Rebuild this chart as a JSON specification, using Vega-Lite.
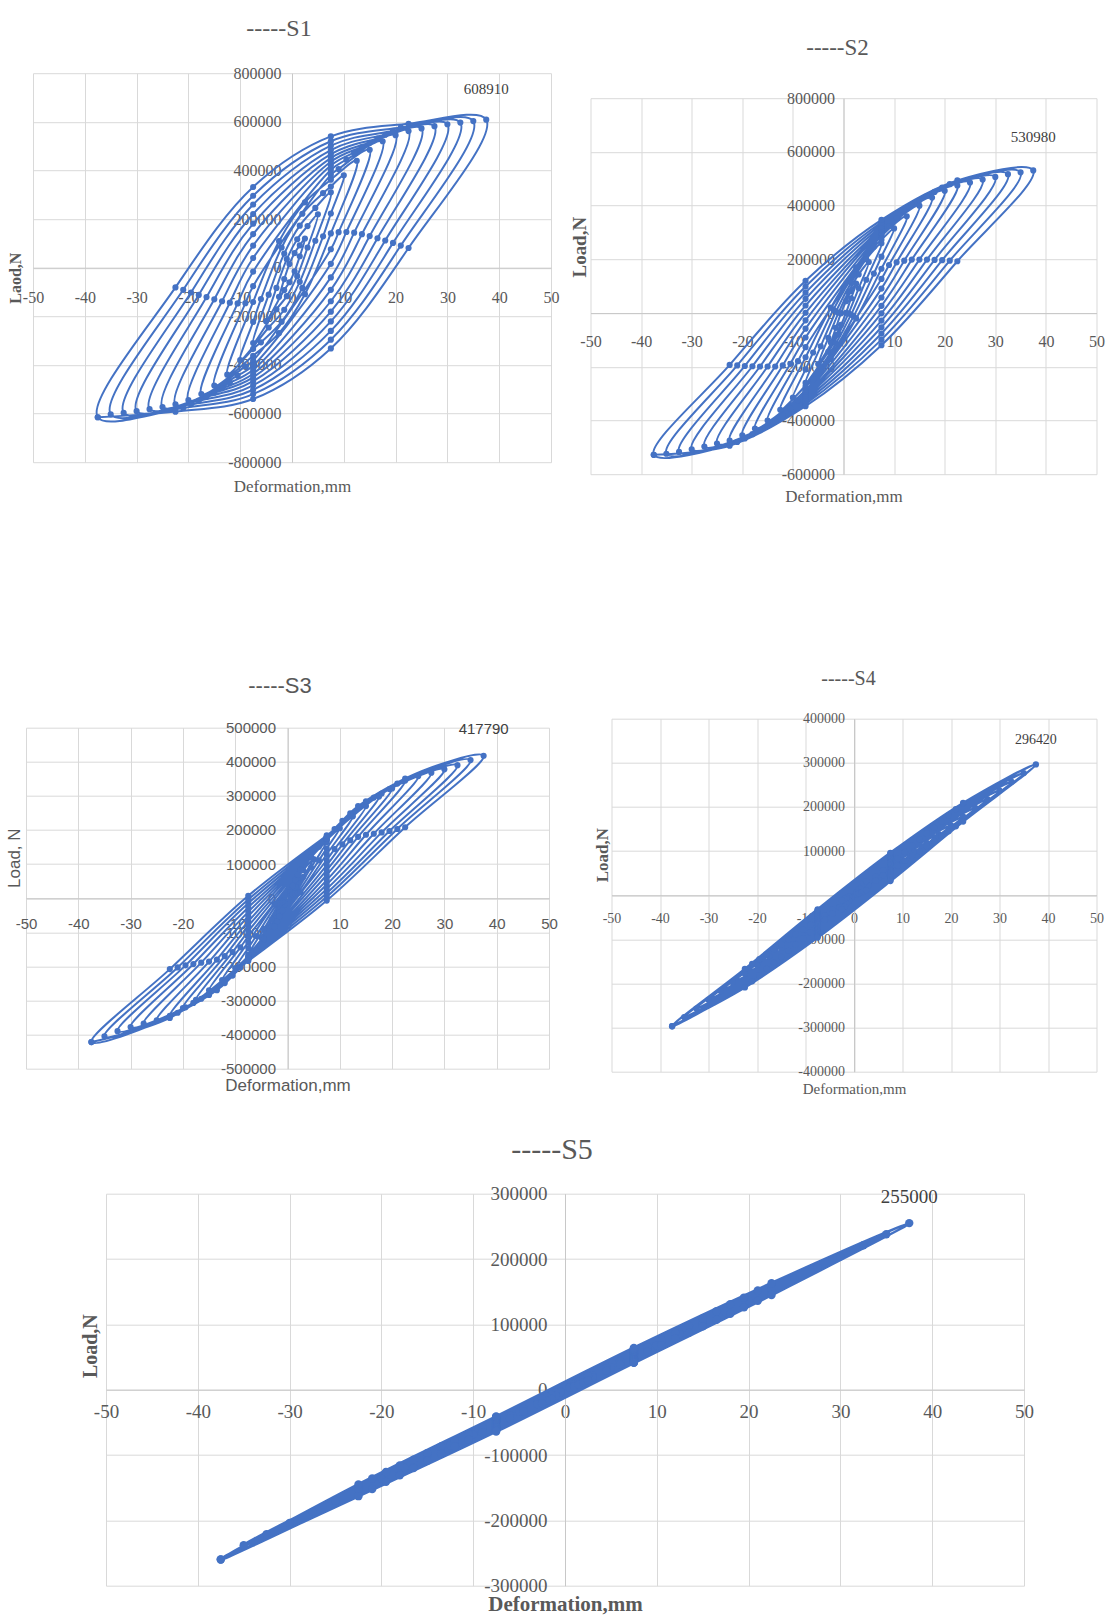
{
"$schema": "https://vega.github.io/schema/vega-lite/v6.json",
"background": "white",
"padding": {"left": 4, "top": 15.2, "right": 5, "bottom": 5},
"config": {"view": {"stroke": null}},
"datasets": {
"s1": [
{"x":-2.5,"y":-120000},{"x":-1.5,"y":-47000},{"x":-0.5,"y":15000},{"x":0.5,"y":60000},{"x":1.5,"y":92000},{"x":2.5,"y":120000},{"x":1.5,"y":47000},{"x":0.5,"y":-15000},{"x":-0.5,"y":-60000},{"x":-1.5,"y":-92000},
{"x":-5,"y":-220000},{"x":-3,"y":-83000},{"x":-1,"y":35000},{"x":1,"y":117000},{"x":3,"y":171000},{"x":5,"y":220000},{"x":3,"y":83000},{"x":1,"y":-35000},{"x":-1,"y":-117000},{"x":-3,"y":-171000},
{"x":-7.5,"y":-310000},{"x":-4.5,"y":-111000},{"x":-1.5,"y":58000},{"x":1.5,"y":173000},{"x":4.5,"y":246000},{"x":7.5,"y":310000},{"x":4.5,"y":111000},{"x":1.5,"y":-58000},{"x":-1.5,"y":-173000},{"x":-4.5,"y":-246000},
{"x":-10,"y":-380000},{"x":-7.5,"y":-223000},{"x":-6,"y":-129000},{"x":-2,"y":83000},{"x":2,"y":222000},{"x":6,"y":307000},{"x":7.5,"y":334000},{"x":10,"y":380000},{"x":7.5,"y":223000},{"x":6,"y":129000},{"x":2,"y":-83000},{"x":-2,"y":-222000},{"x":-6,"y":-307000},{"x":-7.5,"y":-334000},
{"x":-12.5,"y":-440000},{"x":-7.5,"y":-141000},{"x":-2.5,"y":109000},{"x":2.5,"y":269000},{"x":7.5,"y":362000},{"x":12.5,"y":440000},{"x":7.5,"y":141000},{"x":2.5,"y":-109000},{"x":-2.5,"y":-269000},{"x":-7.5,"y":-362000},
{"x":-15,"y":-485000},{"x":-9,"y":-146000},{"x":-7.5,"y":-76000},{"x":7.5,"y":382000},{"x":9,"y":406000},{"x":15,"y":485000},{"x":9,"y":146000},{"x":7.5,"y":76000},{"x":-7.5,"y":-382000},{"x":-9,"y":-406000},
{"x":-17.5,"y":-520000},{"x":-10.5,"y":-147000},{"x":-7.5,"y":-16000},{"x":7.5,"y":402000},{"x":10.5,"y":444000},{"x":17.5,"y":520000},{"x":10.5,"y":147000},{"x":7.5,"y":16000},{"x":-7.5,"y":-402000},{"x":-10.5,"y":-444000},
{"x":-20,"y":-545000},{"x":-12,"y":-144000},{"x":-7.5,"y":40000},{"x":7.5,"y":420000},{"x":12,"y":473000},{"x":20,"y":545000},{"x":12,"y":144000},{"x":7.5,"y":-40000},{"x":-7.5,"y":-420000},{"x":-12,"y":-473000},
{"x":-22.5,"y":-562000},{"x":-13.5,"y":-138000},{"x":-7.5,"y":91000},{"x":7.5,"y":436000},{"x":13.5,"y":496000},{"x":22.5,"y":562000},{"x":13.5,"y":138000},{"x":7.5,"y":-91000},{"x":-7.5,"y":-436000},{"x":-13.5,"y":-496000},
{"x":-25,"y":-573000},{"x":-15,"y":-130000},{"x":-7.5,"y":138000},{"x":7.5,"y":451000},{"x":15,"y":514000},{"x":25,"y":573000},{"x":15,"y":130000},{"x":7.5,"y":-138000},{"x":-7.5,"y":-451000},{"x":-15,"y":-514000},
{"x":-27.5,"y":-582000},{"x":-16.5,"y":-121000},{"x":-7.5,"y":181000},{"x":7.5,"y":467000},{"x":16.5,"y":531000},{"x":27.5,"y":582000},{"x":16.5,"y":121000},{"x":7.5,"y":-181000},{"x":-7.5,"y":-467000},{"x":-16.5,"y":-531000},
{"x":-30,"y":-590000},{"x":-18,"y":-112000},{"x":-7.5,"y":221000},{"x":7.5,"y":484000},{"x":18,"y":547000},{"x":30,"y":590000},{"x":18,"y":112000},{"x":7.5,"y":-221000},{"x":-7.5,"y":-484000},{"x":-18,"y":-547000},
{"x":-32.5,"y":-597000},{"x":-19.5,"y":-102000},{"x":-7.5,"y":260000},{"x":7.5,"y":502000},{"x":19.5,"y":562000},{"x":32.5,"y":597000},{"x":19.5,"y":102000},{"x":7.5,"y":-260000},{"x":-7.5,"y":-502000},{"x":-19.5,"y":-562000},
{"x":-35,"y":-603000},{"x":-21,"y":-91000},{"x":-7.5,"y":296000},{"x":7.5,"y":520000},{"x":21,"y":577000},{"x":35,"y":603000},{"x":21,"y":91000},{"x":7.5,"y":-296000},{"x":-7.5,"y":-520000},{"x":-21,"y":-577000},
{"x":-37.5,"y":-615000},{"x":-22.5,"y":-81000},{"x":-7.5,"y":332000},{"x":7.5,"y":540000},{"x":22.5,"y":592000},{"x":37.5,"y":608910},{"x":22.5,"y":81000},{"x":7.5,"y":-332000},{"x":-7.5,"y":-540000},{"x":-22.5,"y":-592000},
{"x":-37.5,"y":-615000}
],
"s2": [
{"x":-2.5,"y":-110000},{"x":-1.5,"y":-55000},{"x":-0.5,"y":-1000},{"x":0.5,"y":44000},{"x":1.5,"y":82000},{"x":2.5,"y":110000},{"x":1.5,"y":55000},{"x":0.5,"y":1000},{"x":-0.5,"y":-44000},{"x":-1.5,"y":-82000},
{"x":-5,"y":-190000},{"x":-3,"y":-92000},{"x":-1,"y":1000},{"x":1,"y":79000},{"x":3,"y":144000},{"x":5,"y":190000},{"x":3,"y":92000},{"x":1,"y":-1000},{"x":-1,"y":-79000},{"x":-3,"y":-144000},
{"x":-7.5,"y":-260000},{"x":-4.5,"y":-124000},{"x":-1.5,"y":6000},{"x":1.5,"y":113000},{"x":4.5,"y":201000},{"x":7.5,"y":260000},{"x":4.5,"y":124000},{"x":1.5,"y":-6000},{"x":-1.5,"y":-113000},{"x":-4.5,"y":-201000},
{"x":-10,"y":-315000},{"x":-7.5,"y":-210000},{"x":-6,"y":-147000},{"x":-2,"y":12000},{"x":2,"y":143000},{"x":6,"y":247000},{"x":7.5,"y":273000},{"x":10,"y":315000},{"x":7.5,"y":210000},{"x":6,"y":147000},{"x":2,"y":-12000},{"x":-2,"y":-143000},{"x":-6,"y":-247000},{"x":-7.5,"y":-273000},
{"x":-12.5,"y":-360000},{"x":-7.5,"y":-165000},{"x":-2.5,"y":20000},{"x":2.5,"y":170000},{"x":7.5,"y":287000},{"x":12.5,"y":360000},{"x":7.5,"y":165000},{"x":2.5,"y":-20000},{"x":-2.5,"y":-170000},{"x":-7.5,"y":-287000},
{"x":-15,"y":-400000},{"x":-9,"y":-179000},{"x":-7.5,"y":-127000},{"x":7.5,"y":292000},{"x":9,"y":324000},{"x":15,"y":400000},{"x":9,"y":179000},{"x":7.5,"y":127000},{"x":-7.5,"y":-292000},{"x":-9,"y":-324000},
{"x":-17.5,"y":-430000},{"x":-10.5,"y":-189000},{"x":-7.5,"y":-91000},{"x":7.5,"y":296000},{"x":10.5,"y":354000},{"x":17.5,"y":430000},{"x":10.5,"y":189000},{"x":7.5,"y":91000},{"x":-7.5,"y":-296000},{"x":-10.5,"y":-354000},
{"x":-20,"y":-455000},{"x":-12,"y":-195000},{"x":-7.5,"y":-58000},{"x":7.5,"y":301000},{"x":12,"y":381000},{"x":20,"y":455000},{"x":12,"y":195000},{"x":7.5,"y":58000},{"x":-7.5,"y":-301000},{"x":-12,"y":-381000},
{"x":-22.5,"y":-475000},{"x":-13.5,"y":-199000},{"x":-7.5,"y":-27000},{"x":7.5,"y":307000},{"x":13.5,"y":404000},{"x":22.5,"y":475000},{"x":13.5,"y":199000},{"x":7.5,"y":27000},{"x":-7.5,"y":-307000},{"x":-13.5,"y":-404000},
{"x":-25,"y":-486000},{"x":-15,"y":-199000},{"x":-7.5,"y":1000},{"x":7.5,"y":310000},{"x":15,"y":420000},{"x":25,"y":486000},{"x":15,"y":199000},{"x":7.5,"y":-1000},{"x":-7.5,"y":-310000},{"x":-15,"y":-420000},
{"x":-27.5,"y":-497000},{"x":-16.5,"y":-199000},{"x":-7.5,"y":28000},{"x":7.5,"y":315000},{"x":16.5,"y":436000},{"x":27.5,"y":497000},{"x":16.5,"y":199000},{"x":7.5,"y":-28000},{"x":-7.5,"y":-315000},{"x":-16.5,"y":-436000},
{"x":-30,"y":-507000},{"x":-18,"y":-198000},{"x":-7.5,"y":53000},{"x":7.5,"y":322000},{"x":18,"y":451000},{"x":30,"y":507000},{"x":18,"y":198000},{"x":7.5,"y":-53000},{"x":-7.5,"y":-322000},{"x":-18,"y":-451000},
{"x":-32.5,"y":-517000},{"x":-19.5,"y":-197000},{"x":-7.5,"y":76000},{"x":7.5,"y":330000},{"x":19.5,"y":467000},{"x":32.5,"y":517000},{"x":19.5,"y":197000},{"x":7.5,"y":-76000},{"x":-7.5,"y":-330000},{"x":-19.5,"y":-467000},
{"x":-35,"y":-524000},{"x":-21,"y":-195000},{"x":-7.5,"y":99000},{"x":7.5,"y":338000},{"x":21,"y":480000},{"x":35,"y":524000},{"x":21,"y":195000},{"x":7.5,"y":-99000},{"x":-7.5,"y":-338000},{"x":-21,"y":-480000},
{"x":-37.5,"y":-528000},{"x":-22.5,"y":-193000},{"x":-7.5,"y":120000},{"x":7.5,"y":347000},{"x":22.5,"y":494000},{"x":37.5,"y":530980},{"x":22.5,"y":193000},{"x":7.5,"y":-120000},{"x":-7.5,"y":-347000},{"x":-22.5,"y":-494000},
{"x":-37.5,"y":-528000}
],
"s3": [
{"x":-2.5,"y":-60000},{"x":-1.5,"y":-33000},{"x":-0.5,"y":-6000},{"x":0.5,"y":18000},{"x":1.5,"y":42000},{"x":2.5,"y":60000},{"x":1.5,"y":33000},{"x":0.5,"y":6000},{"x":-0.5,"y":-18000},{"x":-1.5,"y":-42000},
{"x":-5,"y":-115000},{"x":-3,"y":-63000},{"x":-1,"y":-11000},{"x":1,"y":36000},{"x":3,"y":82000},{"x":5,"y":115000},{"x":3,"y":63000},{"x":1,"y":11000},{"x":-1,"y":-36000},{"x":-3,"y":-82000},
{"x":-7.5,"y":-165000},{"x":-4.5,"y":-90000},{"x":-1.5,"y":-14000},{"x":1.5,"y":54000},{"x":4.5,"y":120000},{"x":7.5,"y":165000},{"x":4.5,"y":90000},{"x":1.5,"y":14000},{"x":-1.5,"y":-54000},{"x":-4.5,"y":-120000},
{"x":-10,"y":-205000},{"x":-7.5,"y":-146000},{"x":-6,"y":-111000},{"x":-2,"y":-16000},{"x":2,"y":69000},{"x":6,"y":151000},{"x":7.5,"y":171000},{"x":10,"y":205000},{"x":7.5,"y":146000},{"x":6,"y":111000},{"x":2,"y":16000},{"x":-2,"y":-69000},{"x":-6,"y":-151000},{"x":-7.5,"y":-171000},
{"x":-12.5,"y":-240000},{"x":-7.5,"y":-129000},{"x":-2.5,"y":-17000},{"x":2.5,"y":83000},{"x":7.5,"y":179000},{"x":12.5,"y":240000},{"x":7.5,"y":129000},{"x":2.5,"y":17000},{"x":-2.5,"y":-83000},{"x":-7.5,"y":-179000},
{"x":-15,"y":-270000},{"x":-9,"y":-144000},{"x":-7.5,"y":-112000},{"x":7.5,"y":176000},{"x":9,"y":203000},{"x":15,"y":270000},{"x":9,"y":144000},{"x":7.5,"y":112000},{"x":-7.5,"y":-176000},{"x":-9,"y":-203000},
{"x":-17.5,"y":-298000},{"x":-10.5,"y":-158000},{"x":-7.5,"y":-97000},{"x":7.5,"y":176000},{"x":10.5,"y":227000},{"x":17.5,"y":298000},{"x":10.5,"y":158000},{"x":7.5,"y":97000},{"x":-7.5,"y":-176000},{"x":-10.5,"y":-227000},
{"x":-20,"y":-322000},{"x":-12,"y":-170000},{"x":-7.5,"y":-82000},{"x":7.5,"y":176000},{"x":12,"y":249000},{"x":20,"y":322000},{"x":12,"y":170000},{"x":7.5,"y":82000},{"x":-7.5,"y":-176000},{"x":-12,"y":-249000},
{"x":-22.5,"y":-345000},{"x":-13.5,"y":-180000},{"x":-7.5,"y":-68000},{"x":7.5,"y":178000},{"x":13.5,"y":270000},{"x":22.5,"y":345000},{"x":13.5,"y":180000},{"x":7.5,"y":68000},{"x":-7.5,"y":-178000},{"x":-13.5,"y":-270000},
{"x":-25,"y":-358000},{"x":-15,"y":-186000},{"x":-7.5,"y":-53000},{"x":7.5,"y":176000},{"x":15,"y":284000},{"x":25,"y":358000},{"x":15,"y":186000},{"x":7.5,"y":53000},{"x":-7.5,"y":-176000},{"x":-15,"y":-284000},
{"x":-27.5,"y":-368000},{"x":-16.5,"y":-189000},{"x":-7.5,"y":-40000},{"x":7.5,"y":175000},{"x":16.5,"y":295000},{"x":27.5,"y":368000},{"x":16.5,"y":189000},{"x":7.5,"y":40000},{"x":-7.5,"y":-175000},{"x":-16.5,"y":-295000},
{"x":-30,"y":-378000},{"x":-18,"y":-193000},{"x":-7.5,"y":-27000},{"x":7.5,"y":174000},{"x":18,"y":307000},{"x":30,"y":378000},{"x":18,"y":193000},{"x":7.5,"y":27000},{"x":-7.5,"y":-174000},{"x":-18,"y":-307000},
{"x":-32.5,"y":-390000},{"x":-19.5,"y":-197000},{"x":-7.5,"y":-15000},{"x":7.5,"y":176000},{"x":19.5,"y":320000},{"x":32.5,"y":390000},{"x":19.5,"y":197000},{"x":7.5,"y":15000},{"x":-7.5,"y":-176000},{"x":-19.5,"y":-320000},
{"x":-35,"y":-405000},{"x":-21,"y":-203000},{"x":-7.5,"y":-4000},{"x":7.5,"y":180000},{"x":21,"y":336000},{"x":35,"y":405000},{"x":21,"y":203000},{"x":7.5,"y":4000},{"x":-7.5,"y":-180000},{"x":-21,"y":-336000},
{"x":-37.5,"y":-422000},{"x":-22.5,"y":-208000},{"x":-7.5,"y":7000},{"x":7.5,"y":184000},{"x":22.5,"y":351000},{"x":37.5,"y":417790},{"x":22.5,"y":208000},{"x":7.5,"y":-7000},{"x":-7.5,"y":-184000},{"x":-22.5,"y":-351000},
{"x":-37.5,"y":-422000}
],
"s4": [
{"x":-2.5,"y":-19800},{"x":-1.5,"y":-11000},{"x":-0.5,"y":-2000},{"x":0.5,"y":6000},{"x":1.5,"y":14000},{"x":2.5,"y":19800},{"x":1.5,"y":11000},{"x":0.5,"y":2000},{"x":-0.5,"y":-6000},{"x":-1.5,"y":-14000},
{"x":-5,"y":-39500},{"x":-3,"y":-22000},{"x":-1,"y":-4000},{"x":1,"y":13000},{"x":3,"y":28000},{"x":5,"y":39500},{"x":3,"y":22000},{"x":1,"y":4000},{"x":-1,"y":-13000},{"x":-3,"y":-28000},
{"x":-7.5,"y":-59300},{"x":-4.5,"y":-33000},{"x":-1.5,"y":-6000},{"x":1.5,"y":19000},{"x":4.5,"y":42000},{"x":7.5,"y":59300},{"x":4.5,"y":33000},{"x":1.5,"y":6000},{"x":-1.5,"y":-19000},{"x":-4.5,"y":-42000},
{"x":-10,"y":-79000},{"x":-7.5,"y":-57500},{"x":-6,"y":-45000},{"x":-2,"y":-8000},{"x":2,"y":26000},{"x":6,"y":56000},{"x":7.5,"y":64500},{"x":10,"y":79000},{"x":7.5,"y":57500},{"x":6,"y":45000},{"x":2,"y":8000},{"x":-2,"y":-26000},{"x":-6,"y":-56000},{"x":-7.5,"y":-64500},
{"x":-12.5,"y":-98800},{"x":-7.5,"y":-56000},{"x":-2.5,"y":-11000},{"x":2.5,"y":32000},{"x":7.5,"y":70000},{"x":12.5,"y":98800},{"x":7.5,"y":56000},{"x":2.5,"y":11000},{"x":-2.5,"y":-32000},{"x":-7.5,"y":-70000},
{"x":-15,"y":-118600},{"x":-9,"y":-67000},{"x":-7.5,"y":-53300},{"x":7.5,"y":72400},{"x":9,"y":84000},{"x":15,"y":118600},{"x":9,"y":67000},{"x":7.5,"y":53300},{"x":-7.5,"y":-72400},{"x":-9,"y":-84000},
{"x":-17.5,"y":-138300},{"x":-10.5,"y":-78000},{"x":-7.5,"y":-50900},{"x":7.5,"y":75100},{"x":10.5,"y":98000},{"x":17.5,"y":138300},{"x":10.5,"y":78000},{"x":7.5,"y":50900},{"x":-7.5,"y":-75100},{"x":-10.5,"y":-98000},
{"x":-20,"y":-158100},{"x":-12,"y":-89000},{"x":-7.5,"y":-48500},{"x":7.5,"y":77700},{"x":12,"y":112000},{"x":20,"y":158100},{"x":12,"y":89000},{"x":7.5,"y":48500},{"x":-7.5,"y":-77700},{"x":-12,"y":-112000},
{"x":-22.5,"y":-177900},{"x":-13.5,"y":-100000},{"x":-7.5,"y":-46100},{"x":7.5,"y":80400},{"x":13.5,"y":126000},{"x":22.5,"y":177900},{"x":13.5,"y":100000},{"x":7.5,"y":46100},{"x":-7.5,"y":-80400},{"x":-13.5,"y":-126000},
{"x":-25,"y":-197600},{"x":-15,"y":-111000},{"x":-7.5,"y":-43700},{"x":7.5,"y":83100},{"x":15,"y":140000},{"x":25,"y":197600},{"x":15,"y":111000},{"x":7.5,"y":43700},{"x":-7.5,"y":-83100},{"x":-15,"y":-140000},
{"x":-27.5,"y":-217400},{"x":-16.5,"y":-123000},{"x":-7.5,"y":-41300},{"x":7.5,"y":85700},{"x":16.5,"y":153000},{"x":27.5,"y":217400},{"x":16.5,"y":123000},{"x":7.5,"y":41300},{"x":-7.5,"y":-85700},{"x":-16.5,"y":-153000},
{"x":-30,"y":-237100},{"x":-18,"y":-134000},{"x":-7.5,"y":-38900},{"x":7.5,"y":88300},{"x":18,"y":167000},{"x":30,"y":237100},{"x":18,"y":134000},{"x":7.5,"y":38900},{"x":-7.5,"y":-88300},{"x":-18,"y":-167000},
{"x":-32.5,"y":-256900},{"x":-19.5,"y":-145000},{"x":-7.5,"y":-36500},{"x":7.5,"y":91000},{"x":19.5,"y":181000},{"x":32.5,"y":256900},{"x":19.5,"y":145000},{"x":7.5,"y":36500},{"x":-7.5,"y":-91000},{"x":-19.5,"y":-181000},
{"x":-35,"y":-276700},{"x":-21,"y":-156000},{"x":-7.5,"y":-34100},{"x":7.5,"y":93700},{"x":21,"y":195000},{"x":35,"y":276700},{"x":21,"y":156000},{"x":7.5,"y":34100},{"x":-7.5,"y":-93700},{"x":-21,"y":-195000},
{"x":-37.5,"y":-297000},{"x":-22.5,"y":-167000},{"x":-7.5,"y":-32000},{"x":7.5,"y":96000},{"x":22.5,"y":209000},{"x":37.5,"y":296420},{"x":22.5,"y":167000},{"x":7.5,"y":32000},{"x":-7.5,"y":-96000},{"x":-22.5,"y":-209000},
{"x":-37.5,"y":-297000}
],
"s5": [
{"x":-2.5,"y":-17000},{"x":-1.5,"y":-10000},{"x":-0.5,"y":-3000},{"x":0.5,"y":4000},{"x":1.5,"y":11000},{"x":2.5,"y":17000},{"x":1.5,"y":10000},{"x":0.5,"y":3000},{"x":-0.5,"y":-4000},{"x":-1.5,"y":-11000},
{"x":-5,"y":-34000},{"x":-3,"y":-19000},{"x":-1,"y":-5000},{"x":1,"y":9000},{"x":3,"y":22000},{"x":5,"y":34000},{"x":3,"y":19000},{"x":1,"y":5000},{"x":-1,"y":-9000},{"x":-3,"y":-22000},
{"x":-7.5,"y":-51000},{"x":-4.5,"y":-29000},{"x":-1.5,"y":-8000},{"x":1.5,"y":13000},{"x":4.5,"y":33000},{"x":7.5,"y":51000},{"x":4.5,"y":29000},{"x":1.5,"y":8000},{"x":-1.5,"y":-13000},{"x":-4.5,"y":-33000},
{"x":-10,"y":-68000},{"x":-7.5,"y":-49700},{"x":-6,"y":-39000},{"x":-2,"y":-11000},{"x":2,"y":17000},{"x":6,"y":44000},{"x":7.5,"y":52700},{"x":10,"y":68000},{"x":7.5,"y":49700},{"x":6,"y":39000},{"x":2,"y":11000},{"x":-2,"y":-17000},{"x":-6,"y":-44000},{"x":-7.5,"y":-52700},
{"x":-12.5,"y":-85000},{"x":-7.5,"y":-48000},{"x":-2.5,"y":-14000},{"x":2.5,"y":21000},{"x":7.5,"y":54000},{"x":12.5,"y":85000},{"x":7.5,"y":48000},{"x":2.5,"y":14000},{"x":-2.5,"y":-21000},{"x":-7.5,"y":-54000},
{"x":-15,"y":-102000},{"x":-9,"y":-58000},{"x":-7.5,"y":-47700},{"x":7.5,"y":55300},{"x":9,"y":65000},{"x":15,"y":102000},{"x":9,"y":58000},{"x":7.5,"y":47700},{"x":-7.5,"y":-55300},{"x":-9,"y":-65000},
{"x":-17.5,"y":-119000},{"x":-10.5,"y":-68000},{"x":-7.5,"y":-46900},{"x":7.5,"y":56300},{"x":10.5,"y":76000},{"x":17.5,"y":119000},{"x":10.5,"y":68000},{"x":7.5,"y":46900},{"x":-7.5,"y":-56300},{"x":-10.5,"y":-76000},
{"x":-20,"y":-136000},{"x":-12,"y":-78000},{"x":-7.5,"y":-46200},{"x":7.5,"y":57200},{"x":12,"y":87000},{"x":20,"y":136000},{"x":12,"y":78000},{"x":7.5,"y":46200},{"x":-7.5,"y":-57200},{"x":-12,"y":-87000},
{"x":-22.5,"y":-153000},{"x":-13.5,"y":-87000},{"x":-7.5,"y":-45400},{"x":7.5,"y":58100},{"x":13.5,"y":98000},{"x":22.5,"y":153000},{"x":13.5,"y":87000},{"x":7.5,"y":45400},{"x":-7.5,"y":-58100},{"x":-13.5,"y":-98000},
{"x":-25,"y":-170000},{"x":-15,"y":-97000},{"x":-7.5,"y":-44600},{"x":7.5,"y":59100},{"x":15,"y":109000},{"x":25,"y":170000},{"x":15,"y":97000},{"x":7.5,"y":44600},{"x":-7.5,"y":-59100},{"x":-15,"y":-109000},
{"x":-27.5,"y":-187000},{"x":-16.5,"y":-107000},{"x":-7.5,"y":-43900},{"x":7.5,"y":60000},{"x":16.5,"y":120000},{"x":27.5,"y":187000},{"x":16.5,"y":107000},{"x":7.5,"y":43900},{"x":-7.5,"y":-60000},{"x":-16.5,"y":-120000},
{"x":-30,"y":-204000},{"x":-18,"y":-116000},{"x":-7.5,"y":-43100},{"x":7.5,"y":61000},{"x":18,"y":131000},{"x":30,"y":204000},{"x":18,"y":116000},{"x":7.5,"y":43100},{"x":-7.5,"y":-61000},{"x":-18,"y":-131000},
{"x":-32.5,"y":-221000},{"x":-19.5,"y":-126000},{"x":-7.5,"y":-42300},{"x":7.5,"y":61900},{"x":19.5,"y":141000},{"x":32.5,"y":221000},{"x":19.5,"y":126000},{"x":7.5,"y":42300},{"x":-7.5,"y":-61900},{"x":-19.5,"y":-141000},
{"x":-35,"y":-238000},{"x":-21,"y":-136000},{"x":-7.5,"y":-41600},{"x":7.5,"y":62800},{"x":21,"y":152000},{"x":35,"y":238000},{"x":21,"y":136000},{"x":7.5,"y":41600},{"x":-7.5,"y":-62800},{"x":-21,"y":-152000},
{"x":-37.5,"y":-260000},{"x":-22.5,"y":-145000},{"x":-7.5,"y":-41000},{"x":7.5,"y":64000},{"x":22.5,"y":163000},{"x":37.5,"y":255000},{"x":22.5,"y":145000},{"x":7.5,"y":41000},{"x":-7.5,"y":-64000},{"x":-22.5,"y":-163000},
{"x":-37.5,"y":-260000}
]
},
"spacing": 37.5,
"vconcat": [
{"spacing": 163.5, "vconcat": [
 {"spacing": 11.5, "hconcat": [
  {"spacing": 0, "hconcat": [
   {"width": 3, "height": 1, "data": {"values": []}, "mark": "point"},
   {"spacing": 0, "vconcat": [
    {"width": 1, "height": 1, "data": {"values": []}, "mark": "point"},
    {"width": 518, "height": 389,
     "title": {"text": "-----S1", "font": "Liberation Serif", "fontSize": 24, "fontWeight": "normal", "color": "#595959", "frame": "group", "anchor": "middle", "offset": 24.4, "dx": -13},
     "encoding": {
      "x": {"field": "x", "type": "quantitative", "scale": {"domain": [-50, 50], "nice": false, "zero": false},
       "axis": {"values": [-50,-40,-30,-20,-10,0,10,20,30,40,50], "labelExpr": "''+datum.value", "offset": -194.5, "domain": true, "domainColor": "#c8c8c8", "ticks": false, "labelPadding": 22, "labelFlush": false, "labelOverlap": false, "labelFont": "Liberation Serif", "labelFontSize": 16, "labelColor": "#595959", "grid": true, "gridColor": "#d9d9d9", "title": "Deformation,mm", "titleY": 218.5, "titleBaseline": "middle", "titleFont": "Liberation Serif", "titleFontSize": 17, "titleFontWeight": "normal", "titleColor": "#595959"}},
      "y": {"field": "y", "type": "quantitative", "scale": {"domain": [-800000, 800000], "nice": false, "zero": false},
       "axis": {"values": [-800000,-600000,-400000,-200000,0,200000,400000,600000,800000], "labelExpr": "''+datum.value", "offset": -259, "domain": true, "domainColor": "#c8c8c8", "ticks": false, "labelPadding": 11, "labelFlush": false, "labelOverlap": false, "labelFont": "Liberation Serif", "labelFontSize": 16, "labelColor": "#595959", "grid": true, "gridColor": "#d9d9d9", "title": "Laod,N", "titleX": -277, "titleY": 204.5, "titleAngle": 270, "titleAlign": "center", "titleBaseline": "middle", "titleFont": "Liberation Serif", "titleFontSize": 16, "titleFontWeight": "bold", "titleColor": "#595959"}}
     },
     "layer": [
      {"data": {"name": "s1"}, "mark": {"type": "line", "interpolate": "catmull-rom", "strokeWidth": 2, "color": "#4472C4"}, "encoding": {"order": {"value": null}}},
      {"data": {"name": "s1"}, "mark": {"type": "point", "filled": true, "size": 38, "opacity": 1, "color": "#4472C4"}},
      {"data": {"values": [{"x": 37.5, "y": 608910}]}, "mark": {"type": "text", "dy": -31, "font": "Liberation Serif", "fontSize": 15, "color": "#404040"}, "encoding": {"text": {"field": "y", "type": "quantitative", "format": "d"}}}
     ]}
   ]}
  ]},
  {"spacing": 0, "vconcat": [
   {"width": 1, "height": 20.3, "data": {"values": []}, "mark": "point"},
   {"width": 506, "height": 376,
    "title": {"text": "-----S2", "font": "Liberation Serif", "fontSize": 23, "fontWeight": "normal", "color": "#595959", "frame": "group", "anchor": "middle", "offset": 30.5, "dx": -6},
    "encoding": {
     "x": {"field": "x", "type": "quantitative", "scale": {"domain": [-50, 50], "nice": false, "zero": false},
      "axis": {"values": [-50,-40,-30,-20,-10,0,10,20,30,40,50], "labelExpr": "''+datum.value", "offset": -161.14, "domain": true, "domainColor": "#c8c8c8", "ticks": false, "labelPadding": 20, "labelFlush": false, "labelOverlap": false, "labelFont": "Liberation Serif", "labelFontSize": 16, "labelColor": "#595959", "grid": true, "gridColor": "#d9d9d9", "title": "Deformation,mm", "titleY": 183, "titleBaseline": "middle", "titleFont": "Liberation Serif", "titleFontSize": 17, "titleFontWeight": "normal", "titleColor": "#595959"}},
     "y": {"field": "y", "type": "quantitative", "scale": {"domain": [-600000, 800000], "nice": false, "zero": false},
      "axis": {"values": [-600000,-400000,-200000,0,200000,400000,600000,800000], "labelExpr": "''+datum.value", "offset": -253, "domain": true, "domainColor": "#c8c8c8", "ticks": false, "labelPadding": 9, "labelFlush": false, "labelOverlap": false, "labelFont": "Liberation Serif", "labelFontSize": 16, "labelColor": "#595959", "grid": true, "gridColor": "#d9d9d9", "title": "Load,N", "titleX": -264, "titleY": 148.5, "titleAngle": 270, "titleAlign": "center", "titleBaseline": "middle", "titleFont": "Liberation Serif", "titleFontSize": 19, "titleFontWeight": "bold", "titleColor": "#595959"}}
    },
    "layer": [
     {"data": {"name": "s2"}, "mark": {"type": "line", "interpolate": "catmull-rom", "strokeWidth": 2, "color": "#4472C4"}, "encoding": {"order": {"value": null}}},
     {"data": {"name": "s2"}, "mark": {"type": "point", "filled": true, "size": 38, "opacity": 1, "color": "#4472C4"}},
     {"data": {"values": [{"x": 37.5, "y": 530980}]}, "mark": {"type": "text", "dy": -33, "font": "Liberation Serif", "fontSize": 15, "color": "#404040"}, "encoding": {"text": {"field": "y", "type": "quantitative", "format": "d"}}}
    ]}
  ]}
 ]},
 {"spacing": 35.5, "hconcat": [
  {"spacing": 0, "hconcat": [
   {"width": 1, "height": 1, "data": {"values": []}, "mark": "point"},
   {"spacing": 0, "vconcat": [
    {"width": 1, "height": 7, "data": {"values": []}, "mark": "point"},
    {"width": 523, "height": 341,
     "title": {"text": "-----S3", "font": "Liberation Sans Narrow, Liberation Sans", "fontSize": 22, "fontWeight": "normal", "color": "#595959", "frame": "group", "anchor": "middle", "offset": 22.7, "dx": -7.5},
     "encoding": {
      "x": {"field": "x", "type": "quantitative", "scale": {"domain": [-50, 50], "nice": false, "zero": false},
       "axis": {"values": [-50,-40,-30,-20,-10,0,10,20,30,40,50], "labelExpr": "''+datum.value", "offset": -170.5, "domain": true, "domainColor": "#c8c8c8", "ticks": false, "labelPadding": 18, "labelFlush": false, "labelOverlap": false, "labelFont": "Liberation Sans Narrow, Liberation Sans", "labelFontSize": 15, "labelColor": "#595959", "grid": true, "gridColor": "#d9d9d9", "title": "Deformation,mm", "titleY": 187.5, "titleBaseline": "middle", "titleFont": "Liberation Sans Narrow, Liberation Sans", "titleFontSize": 17, "titleFontWeight": "normal", "titleColor": "#595959"}},
      "y": {"field": "y", "type": "quantitative", "scale": {"domain": [-500000, 500000], "nice": false, "zero": false},
       "axis": {"values": [-500000,-400000,-300000,-200000,-100000,0,100000,200000,300000,400000,500000], "labelExpr": "''+datum.value", "offset": -261.5, "domain": true, "domainColor": "#c8c8c8", "ticks": false, "labelPadding": 12, "labelFlush": false, "labelOverlap": false, "labelFont": "Liberation Sans Narrow, Liberation Sans", "labelFontSize": 15, "labelColor": "#595959", "grid": true, "gridColor": "#d9d9d9", "title": "Load, N", "titleX": -273, "titleY": 130, "titleAngle": 270, "titleAlign": "center", "titleBaseline": "middle", "titleFont": "Liberation Sans Narrow, Liberation Sans", "titleFontSize": 17, "titleFontWeight": "normal", "titleColor": "#595959"}}
     },
     "layer": [
      {"data": {"name": "s3"}, "mark": {"type": "line", "interpolate": "catmull-rom", "strokeWidth": 2, "color": "#4472C4"}, "encoding": {"order": {"value": null}}},
      {"data": {"name": "s3"}, "mark": {"type": "point", "filled": true, "size": 38, "opacity": 1, "color": "#4472C4"}},
      {"data": {"values": [{"x": 37.5, "y": 417790}]}, "mark": {"type": "text", "dy": -26.5, "font": "Liberation Sans Narrow, Liberation Sans", "fontSize": 15, "color": "#404040"}, "encoding": {"text": {"field": "y", "type": "quantitative", "format": "d"}}}
     ]}
   ]}
  ]},
  {"spacing": 0, "vconcat": [
   {"width": 1, "height": 1, "data": {"values": []}, "mark": "point"},
   {"width": 485, "height": 353,
    "title": {"text": "-----S4", "font": "Liberation Serif", "fontSize": 20, "fontWeight": "normal", "color": "#595959", "frame": "group", "anchor": "middle", "offset": 22.5, "dx": -5.5},
    "encoding": {
     "x": {"field": "x", "type": "quantitative", "scale": {"domain": [-50, 50], "nice": false, "zero": false},
      "axis": {"values": [-50,-40,-30,-20,-10,0,10,20,30,40,50], "labelExpr": "''+datum.value", "offset": -176.5, "domain": true, "domainColor": "#c8c8c8", "ticks": false, "labelPadding": 16, "labelFlush": false, "labelOverlap": false, "labelFont": "Liberation Serif", "labelFontSize": 14, "labelColor": "#595959", "grid": true, "gridColor": "#d9d9d9", "title": "Deformation,mm", "titleY": 193.5, "titleBaseline": "middle", "titleFont": "Liberation Serif", "titleFontSize": 15, "titleFontWeight": "normal", "titleColor": "#595959"}},
     "y": {"field": "y", "type": "quantitative", "scale": {"domain": [-400000, 400000], "nice": false, "zero": false},
      "axis": {"values": [-400000,-300000,-200000,-100000,0,100000,200000,300000,400000], "labelExpr": "''+datum.value", "offset": -242.5, "domain": true, "domainColor": "#c8c8c8", "ticks": false, "labelPadding": 9.5, "labelFlush": false, "labelOverlap": false, "labelFont": "Liberation Serif", "labelFontSize": 14, "labelColor": "#595959", "grid": true, "gridColor": "#d9d9d9", "title": "Load,N", "titleX": -251, "titleY": 136, "titleAngle": 270, "titleAlign": "center", "titleBaseline": "middle", "titleFont": "Liberation Serif", "titleFontSize": 17, "titleFontWeight": "bold", "titleColor": "#595959"}}
    },
    "layer": [
     {"data": {"name": "s4"}, "mark": {"type": "line", "interpolate": "catmull-rom", "strokeWidth": 2.5, "color": "#4472C4"}, "encoding": {"order": {"value": null}}},
     {"data": {"name": "s4"}, "mark": {"type": "point", "filled": true, "size": 40, "opacity": 1, "color": "#4472C4"}},
     {"data": {"values": [{"x": 37.5, "y": 296420}]}, "mark": {"type": "text", "dy": -24, "font": "Liberation Serif", "fontSize": 14, "color": "#404040"}, "encoding": {"text": {"field": "y", "type": "quantitative", "format": "d"}}}
    ]}
  ]}
 ]}
]},
{"spacing": 0, "hconcat": [
 {"width": 76, "height": 1, "data": {"values": []}, "mark": "point"},
 {"width": 918, "height": 392,
  "title": {"text": "-----S5", "font": "Liberation Serif", "fontSize": 30, "fontWeight": "normal", "color": "#595959", "frame": "group", "anchor": "middle", "offset": 19.3, "dx": -13},
  "encoding": {
   "x": {"field": "x", "type": "quantitative", "scale": {"domain": [-50, 50], "nice": false, "zero": false},
    "axis": {"values": [-50,-40,-30,-20,-10,0,10,20,30,40,50], "labelExpr": "''+datum.value", "offset": -196, "domain": true, "domainColor": "#c8c8c8", "ticks": false, "labelPadding": 13, "labelFlush": false, "labelOverlap": false, "labelFont": "Liberation Serif", "labelFontSize": 19, "labelColor": "#595959", "grid": true, "gridColor": "#d9d9d9", "title": "Deformation,mm", "titleY": 215, "titleBaseline": "middle", "titleFont": "Liberation Serif", "titleFontSize": 21, "titleFontWeight": "bold", "titleColor": "#595959"}},
   "y": {"field": "y", "type": "quantitative", "scale": {"domain": [-300000, 300000], "nice": false, "zero": false},
    "axis": {"values": [-300000,-200000,-100000,0,100000,200000,300000], "labelExpr": "''+datum.value", "offset": -459, "domain": true, "domainColor": "#c8c8c8", "ticks": false, "labelPadding": 18, "labelFlush": false, "labelOverlap": false, "labelFont": "Liberation Serif", "labelFontSize": 19, "labelColor": "#595959", "grid": true, "gridColor": "#d9d9d9", "title": "Load,N", "titleX": -475, "titleY": 152, "titleAngle": 270, "titleAlign": "center", "titleBaseline": "middle", "titleFont": "Liberation Serif", "titleFontSize": 20, "titleFontWeight": "bold", "titleColor": "#595959"}}
  },
  "layer": [
   {"data": {"name": "s5"}, "mark": {"type": "line", "interpolate": "catmull-rom", "strokeWidth": 3, "color": "#4472C4"}, "encoding": {"order": {"value": null}}},
   {"data": {"name": "s5"}, "mark": {"type": "point", "filled": true, "size": 70, "opacity": 1, "color": "#4472C4"}},
   {"data": {"values": [{"x": 37.5, "y": 255000}]}, "mark": {"type": "text", "dy": -26, "font": "Liberation Serif", "fontSize": 19, "color": "#404040"}, "encoding": {"text": {"field": "y", "type": "quantitative", "format": "d"}}}
  ]}
]}
]
}
